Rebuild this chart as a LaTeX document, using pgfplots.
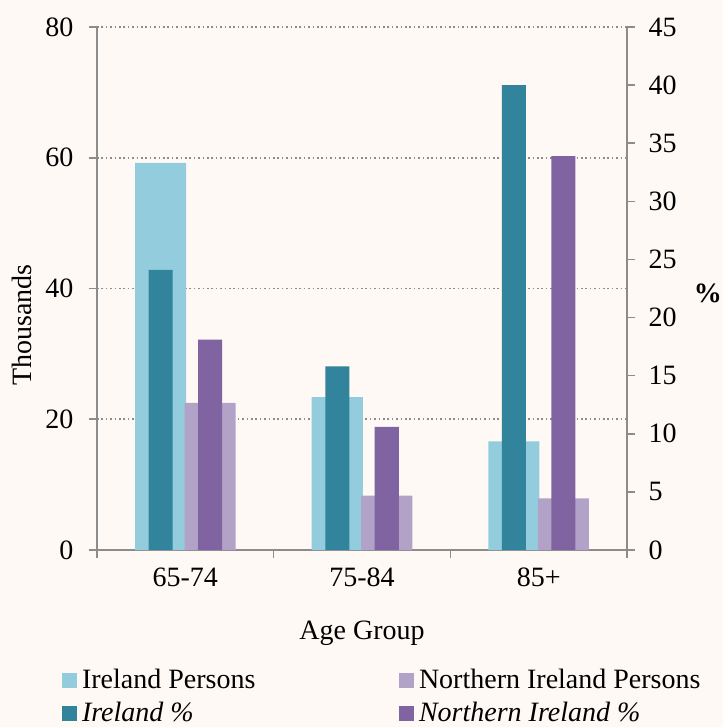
\documentclass[border=0pt]{standalone}
\usepackage{fontspec}
\setmainfont{Liberation Serif}
\usepackage{pgfplots}
\pgfplotsset{compat=1.18}
\definecolor{bgcream}{HTML}{FFF9F5}
\definecolor{irlight}{HTML}{93CDDD}
\definecolor{irdark}{HTML}{31849B}
\definecolor{nilight}{HTML}{B3A2C7}
\definecolor{nidark}{HTML}{8064A2}
\definecolor{axisgray}{HTML}{8C8C8C}

\pgfplotsset{
  common/.style={
    scale only axis, width=265pt, height=261.5pt,
    xmin=-0.5, xmax=2.5, ymin=0,
    ybar,
    tick align=outside, major tick length=4pt,
    axis line style={draw=axisgray, line width=0.8pt},
    tick style={draw=axisgray, line width=0.8pt},
    /pgf/number format/assume math mode=true,
    legend image code/.code={\fill[##1,draw=none] (0pt,0.3pt) rectangle (7.5pt,8pt);},
  },
}

\begin{document}
\fontsize{14pt}{16.8pt}\selectfont
\begin{tikzpicture}
\fill[bgcream, use as bounding box] (-48.5pt,-88.5pt) rectangle (313pt,275pt);

% left axis: persons (thousands)
\begin{axis}[
  common, ymax=80,
  axis x line*=bottom, axis y line*=left,
  xtick={-0.5,0.5,1.5,2.5}, xticklabels={65-74,75-84,85+},
  x tick label as interval,
  ytick={0,20,40,60,80},
  yticklabel style={xshift=-3pt},
  ymajorgrids, grid style={draw=axisgray, line width=0.8pt, dash pattern=on 0.8pt off 1.4pt},
  every axis y label/.style={at={(axis description cs:-0.1415,0.43)}, anchor=center, rotate=90},
  ylabel={Thousands},
  every axis x label/.style={at={(axis description cs:0.5,-0.1587)}, anchor=center},
  xlabel={Age Group},
  legend columns=2,
  legend style={draw=none, fill=none, inner sep=0pt, outer sep=0pt,
    at={(axis description cs:-0.066,-0.283)}, anchor=west,
    row sep=3.5pt,
    nodes={inner sep=0pt, text height=10pt, text depth=3pt, anchor=base west},
    /tikz/every odd column/.append style={column sep=2.5pt}},
  legend cell align=left,
]
\addplot[fill=irlight, draw=none, bar width=0.289, bar shift=-0.14]
  coordinates {(0,59.2) (1,23.4) (2,16.6)};
\addplot[fill=nilight, draw=none, bar width=0.289, bar shift=0.14]
  coordinates {(0,22.5) (1,8.3) (2,7.9)};
\addlegendimage{fill=irdark, draw=none}
\addlegendimage{fill=nidark, draw=none}
\legend{\makebox[158.5pt][l]{Ireland Persons}, Northern Ireland Persons,
  \makebox[158.5pt][l]{\textit{Ireland \%}}, \textit{Northern Ireland \%}}
\end{axis}

% right axis: percentages
\begin{axis}[
  common, ymax=45,
  axis x line=none, axis y line*=right,
  ytick={0,5,...,45},
  yticklabel style={xshift=2pt},
  every axis y label/.style={at={(axis description cs:1.1528,0.49)}, anchor=center},
  ylabel={\textbf{\%}},
]
\addplot[fill=irdark, draw=none, bar width=0.136, bar shift=-0.14]
  coordinates {(0,24.1) (1,15.8) (2,40.0)};
\addplot[fill=nidark, draw=none, bar width=0.136, bar shift=0.14]
  coordinates {(0,18.1) (1,10.6) (2,33.9)};
\end{axis}
\end{tikzpicture}
\end{document}
